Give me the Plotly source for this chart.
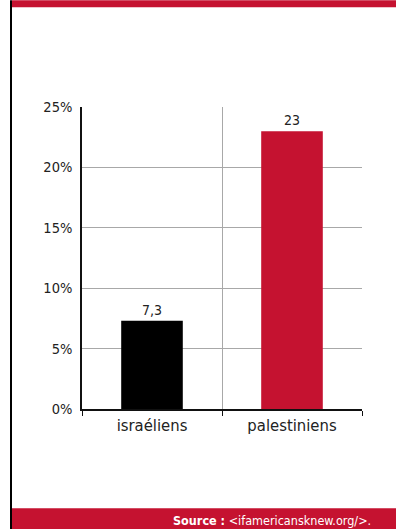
import plotly.graph_objects as go

categories = ["israéliens", "palestiniens"]
values = [7.3, 23]
value_labels = ["7,3", "23"]
bar_colors = ["#000000", "#C51230"]
y_tickvals = [0, 5, 10, 15, 20, 25]
y_ticktext = ["0%", "5%", "10%", "15%", "20%", "25%"]

RED = "#C51230"
FONT = "DejaVu Sans Condensed, Roboto, Arial, sans-serif"

fig = go.Figure(go.Bar(
    x=categories, y=values, text=value_labels, textposition="outside",
    marker=dict(color=bar_colors, line=dict(width=0)),
    textfont=dict(family=FONT, size=14, color="#222"),
    width=0.44, cliponaxis=False,
))

fig.update_layout(
    width=396, height=530,
    margin=dict(l=82, r=34, t=107, b=121),
    paper_bgcolor="white", plot_bgcolor="white",
    showlegend=False,
    font=dict(family=FONT, color="#222"),
    xaxis=dict(
        tickson="boundaries", showgrid=True, gridcolor="#A8A8A8", gridwidth=1,
        showline=True, linecolor="#111", linewidth=1.5,
        ticks="outside", ticklen=5, tickcolor="#111",
        tickfont=dict(family=FONT, size=16.5, color="#222"),
        range=[-0.5, 1.5],
    ),
    yaxis=dict(
        range=[0, 25], tickvals=y_tickvals, ticktext=y_ticktext,
        showgrid=True, gridcolor="#A8A8A8", gridwidth=1,
        showline=True, linecolor="#111", linewidth=1.5,
        ticks="", ticklabelstandoff=5,
        tickfont=dict(family=FONT, size=14.5, color="#222"),
        zeroline=False,
    ),
    shapes=[
        dict(type="rect", xref="paper", yref="paper", x0=-70/280, x1=(396-82)/280,
             y0=1 + 100/303, y1=1 + 107/303, fillcolor=RED, line=dict(width=0), layer="below"),
        dict(type="rect", xref="paper", yref="paper", x0=-70/280, x1=(396-82)/280,
             y0=-(509-409.5)/303, y1=-(530-409.5)/303, fillcolor=RED, line=dict(width=0), layer="below"),
        dict(type="rect", xref="paper", yref="paper", x0=-72/280, x1=-70/280,
             y0=1 + 107/303, y1=-(530-409.5)/303, fillcolor="#000", line=dict(width=0), layer="below"),
    ],
    annotations=[
        dict(xref="paper", yref="paper", x=(373-82)/280, y=-(521.5-409.5)/303,
             xanchor="right", yanchor="middle", showarrow=False,
             text="<b>Source :</b> &lt;ifamericansknew.org/&gt;.",
             font=dict(family=FONT, size=12.5, color="white")),
    ],
)

fig.write_html("out.html", config={"displayModeBar": False},
               post_script="document.body.style.margin='0';document.body.style.padding='0';")
